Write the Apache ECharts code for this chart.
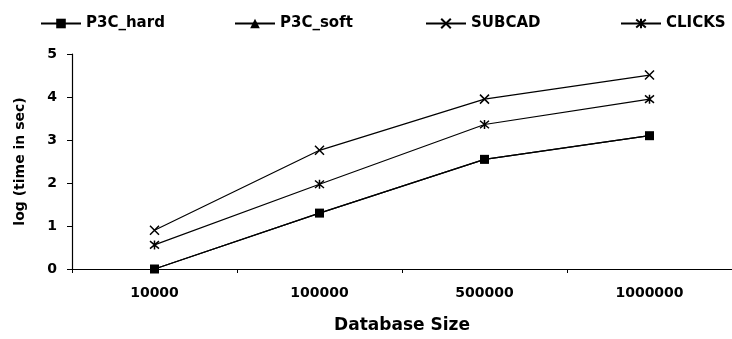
<!DOCTYPE html>
<html>
<head>
<meta charset="utf-8">
<script src="https://cdn.jsdelivr.net/npm/echarts@6/dist/echarts.min.js"></script>
<style>
  html, body { margin: 0; padding: 0; background: #fff; }
  #chart { width: 732px; height: 339px; }
</style>
</head>
<body>
<div id="chart"></div>
<script>
const sizes = ['10000', '100000', '500000', '1000000'];
const p3cHard = [0, 1.30, 2.55, 3.10];
const p3cSoft = [0, 1.30, 2.55, 3.10];
const subcad = [0.90, 2.76, 3.95, 4.51];
const clicks = [0.56, 1.97, 3.36, 3.95];

const FONT = 'DejaVu Sans';
const CROSS = 'path://M0,0L10,10M10,0L0,10';
const ASTER = 'path://M0,0L10,10M10,0L0,10M5,-1L5,11';

function makeSeries(name, data, symbol, size, filled, z) {
    return {
        name: name,
        type: 'line',
        data: data,
        symbol: symbol,
        symbolSize: size,
        showAllSymbol: true,
        z: z,
        lineStyle: { color: '#000', width: 1.2 },
        itemStyle: filled
            ? { color: '#000', borderColor: '#000', borderWidth: 0 }
            : { color: 'none', borderColor: '#000', borderWidth: 1.5 },
        emphasis: { disabled: true }
    };
}

// one legend per entry so the spacing matches the original
const legendNames = ['P3C_hard', 'P3C_soft', 'SUBCAD', 'CLICKS'];
const legendLeft = [35, 229, 420, 615];

const chart = echarts.init(document.getElementById('chart'));
chart.setOption({
    backgroundColor: '#fff',
    animation: false,
    legend: legendNames.map((n, i) => ({
        data: [n],
        left: legendLeft[i],
        top: 11,
        itemWidth: 40,
        itemHeight: 12,
        textStyle: { fontFamily: FONT, fontSize: 15, fontWeight: 'bold', color: '#000' }
    })),
    grid: { left: 72, right: -4, top: 54, bottom: 62 },
    xAxis: {
        type: 'category',
        data: sizes,
        boundaryGap: true,
        name: 'Database Size',
        nameLocation: 'middle',
        nameGap: 48,
        nameTextStyle: { fontFamily: FONT, fontSize: 17, fontWeight: 'bold', color: '#000' },
        axisLine: { lineStyle: { color: '#000', width: 1.2 } },
        axisTick: { show: true, length: 4, lineStyle: { color: '#000' } },
        axisLabel: { fontFamily: FONT, fontSize: 14, fontWeight: 'bold', color: '#000', margin: 17 },
        splitLine: { show: false }
    },
    yAxis: {
        type: 'value',
        min: 0,
        max: 5,
        interval: 1,
        name: 'log (time in sec)',
        nameLocation: 'middle',
        nameGap: 45,
        nameTextStyle: { fontFamily: FONT, fontSize: 14, fontWeight: 'bold', color: '#000' },
        axisLine: { show: true, lineStyle: { color: '#000', width: 1.2 } },
        axisTick: { show: true, length: 5, lineStyle: { color: '#000' } },
        axisLabel: { fontFamily: FONT, fontSize: 14, fontWeight: 'bold', color: '#000', margin: 15 },
        splitLine: { show: false }
    },
    series: [
        makeSeries('P3C_soft', p3cSoft, 'triangle', 8, true, 2),
        makeSeries('P3C_hard', p3cHard, 'rect', 9, true, 3),
        makeSeries('SUBCAD', subcad, CROSS, 9, false, 2),
        makeSeries('CLICKS', clicks, ASTER, 9, false, 2)
    ]
});

window.addEventListener('resize', () => chart.resize());
</script>
</body>
</html>
